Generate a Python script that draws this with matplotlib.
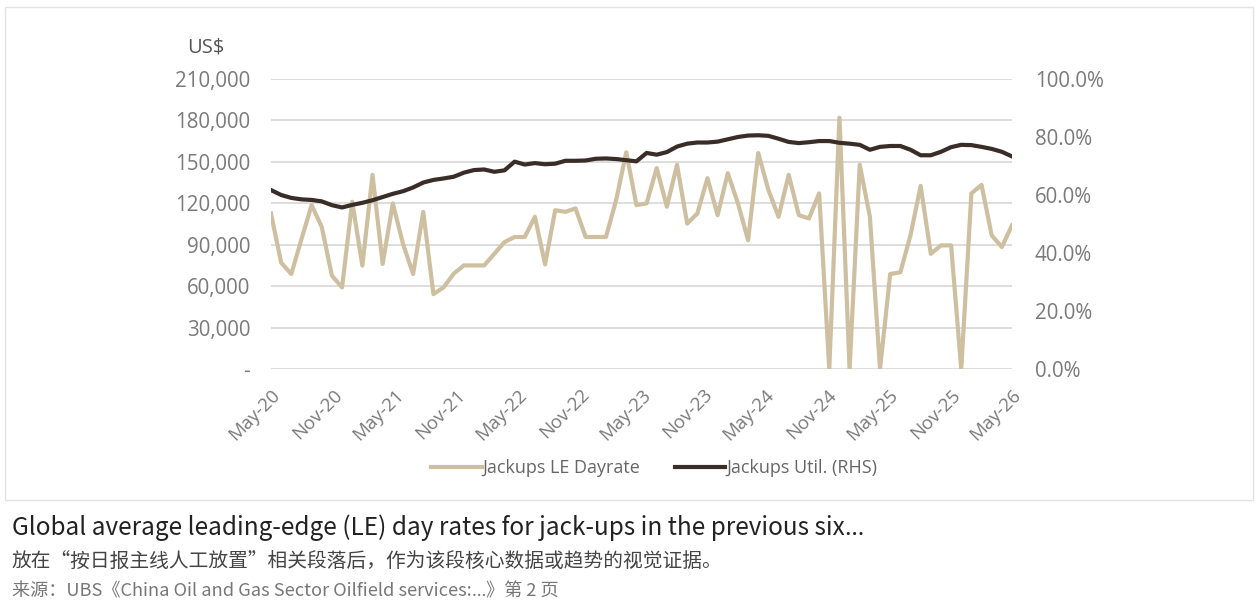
import matplotlib
matplotlib.use("Agg")
import matplotlib.pyplot as plt
import matplotlib.dates as mdates
from matplotlib.patches import Rectangle
import pandas as pd

# ---------------- data ----------------
dayrate = [112.6, 77, 68.8, 94, 118.7, 102.9, 67.6, 59.1, 121.1, 74.9,
           140.6, 76.1, 119.9, 90.7, 68.8, 113.8, 54.2, 59.1, 69, 75,
           75, 75, 83.4, 91.9, 95.6, 95.6, 110.2, 75.8, 115, 113.8,
           116.3, 95.6, 95.6, 95.6, 122.3, 156.9, 118.7, 119.9, 145.5, 117.5,
           147.9, 105.3, 112.6, 138.2, 111.4, 141.8, 120, 93.2, 156.4, 129.7,
           110.2, 140.6, 111.4, 109, 127.2, 0, 182, 0, 147.9, 110.2,
           0, 68.8, 70, 96.8, 132.6, 83.4, 89.5, 89.5, 0, 127.2,
           133.3, 96.8, 88.3, 104.1]  # US$ thousands
utilization = [61.7, 60.0, 59.0, 58.5, 58.3, 57.8, 56.5, 55.7, 56.6, 57.3,
               58.2, 59.3, 60.4, 61.3, 62.6, 64.3, 65.2, 65.7, 66.3, 67.7,
               68.6, 68.8, 68.0, 68.5, 71.5, 70.5, 71.0, 70.6, 70.8, 71.8,
               71.8, 71.9, 72.5, 72.6, 72.4, 72.0, 71.6, 74.5, 73.9, 74.8,
               76.7, 77.7, 78.1, 78.1, 78.4, 79.2, 80.0, 80.5, 80.6, 80.4,
               79.4, 78.3, 77.9, 78.2, 78.6, 78.6, 78.0, 77.7, 77.3, 75.6,
               76.6, 76.9, 76.9, 75.6, 73.7, 73.7, 74.9, 76.5, 77.3, 77.2,
               76.6, 75.9, 74.9, 73.3]  # percent
start_date = "2020-05-01"
end_date = "2026-05-01"
left_ticks = [0, 30000, 60000, 90000, 120000, 150000, 180000, 210000]
left_labels = ["-", "30,000", "60,000", "90,000", "120,000", "150,000", "180,000", "210,000"]
right_ticks = [0, 20, 40, 60, 80, 100]
right_labels = ["0.0%", "20.0%", "40.0%", "60.0%", "80.0%", "100.0%"]
series_names = ["Jackups LE Dayrate", "Jackups Util. (RHS)"]
unit_label = "US$"
title_parts = ["Global average leading-edge (LE) day rates for jack-ups in the previous six", "…"]
subtitle = "放在“按日报主线人工放置”相关段落后，作为该段核心数据或趋势的视觉证据。"
source_parts = ["来源：UBS《China Oil and Gas Sector Oilfield services:", "…", "》第 2 页"]

dates = pd.date_range(start_date, end_date, periods=len(dayrate))
dayrate_usd = [v * 1000 for v in dayrate]

# ---------------- style ----------------
TAN = "#CDBFA0"
DARK = "#3A2C27"
GREY = "#7A7A7A"
GRID = "#DADADA"
FONT = ["Open Sans", "DejaVu Sans"]
CJK = ["Noto Sans CJK SC", "DejaVu Sans"]
ELL = ["Noto Sans", "DejaVu Sans"]

fig = plt.figure(figsize=(12.56, 6.13), dpi=100)
fig.patch.set_facecolor("white")

W, H = 1256, 613
ax = fig.add_axes([271 / W, 1 - 369 / H, (1012 - 271) / W, (369 - 79) / H])
ax2 = ax.twinx()

l1, = ax.plot(dates, dayrate_usd, color=TAN, lw=3.0, zorder=3)
l2, = ax2.plot(dates, utilization, color=DARK, lw=3.0, zorder=4)

ax.set_xlim(pd.Timestamp(start_date), pd.Timestamp(end_date))
ax.set_ylim(0, 210000)
ax2.set_ylim(0, 100)

ax.set_yticks(left_ticks)
ax.set_yticklabels(left_labels)
ax2.set_yticks(right_ticks)
ax2.set_yticklabels(right_labels)

ax.xaxis.set_major_locator(mdates.MonthLocator(bymonth=[5, 11], bymonthday=1))
ax.xaxis.set_major_formatter(mdates.DateFormatter("%b-%y"))

ax.grid(axis="y", color=GRID, lw=1.3, zorder=0)
ax.set_axisbelow(True)
for a in (ax, ax2):
    for s in a.spines.values():
        s.set_visible(False)
    a.tick_params(length=0)

ax.tick_params(axis="y", pad=15, labelsize=14.8, labelcolor=GREY)
ax2.tick_params(axis="y", pad=16.5, labelsize=14.8, labelcolor=GREY)
ax.tick_params(axis="x", pad=12, labelsize=13.5, labelcolor=GREY)
for lab in ax.get_xticklabels():
    lab.set_rotation(45)
    lab.set_ha("right")
    lab.set_rotation_mode("anchor")
for lab in ax.get_yticklabels() + ax2.get_yticklabels() + ax.get_xticklabels():
    lab.set_fontfamily(FONT)

fig.text(206 / W, 1 - 47 / H, unit_label, ha="center", va="center",
         fontsize=14.5, color="#555555", family=FONT)

leg = fig.legend([l1, l2], series_names, loc="center",
                 bbox_to_anchor=(654 / W, 1 - 468 / H), ncol=2, frameon=False,
                 handlelength=2.8, handletextpad=0.05, columnspacing=1.9,
                 prop={"family": FONT, "size": 13})
for t in leg.get_texts():
    t.set_color("#666666")
for h in leg.get_lines():
    h.set_linewidth(3.0)

# card border
fig.patches.append(Rectangle((5 / W, 1 - 500 / H), (1253 - 5) / W, (500 - 7) / H,
                             transform=fig.transFigure, fill=False,
                             edgecolor="#E3E3E3", lw=1.0))


def chain(parts, families, y_px, size, color):
    """Place text pieces one after another on a common baseline."""
    x_px = 12
    renderer = fig.canvas.get_renderer()
    for part, fam in zip(parts, families):
        t = fig.text(x_px / W, 1 - y_px / H, part, ha="left", va="baseline",
                     fontsize=size, color=color, family=fam)
        bb = t.get_window_extent(renderer=renderer)
        x_px = bb.x1


fig.canvas.draw()
chain(title_parts, [CJK, ELL], 535, 17.5, "#222222")
fig.text(12 / W, 1 - 568 / H, subtitle, ha="left", va="baseline",
         fontsize=14.2, color="#444444", family=CJK)
chain(source_parts, [CJK, ELL, CJK], 596, 13.1, "#777777")

fig.savefig("out.png", dpi=100, facecolor="white")
